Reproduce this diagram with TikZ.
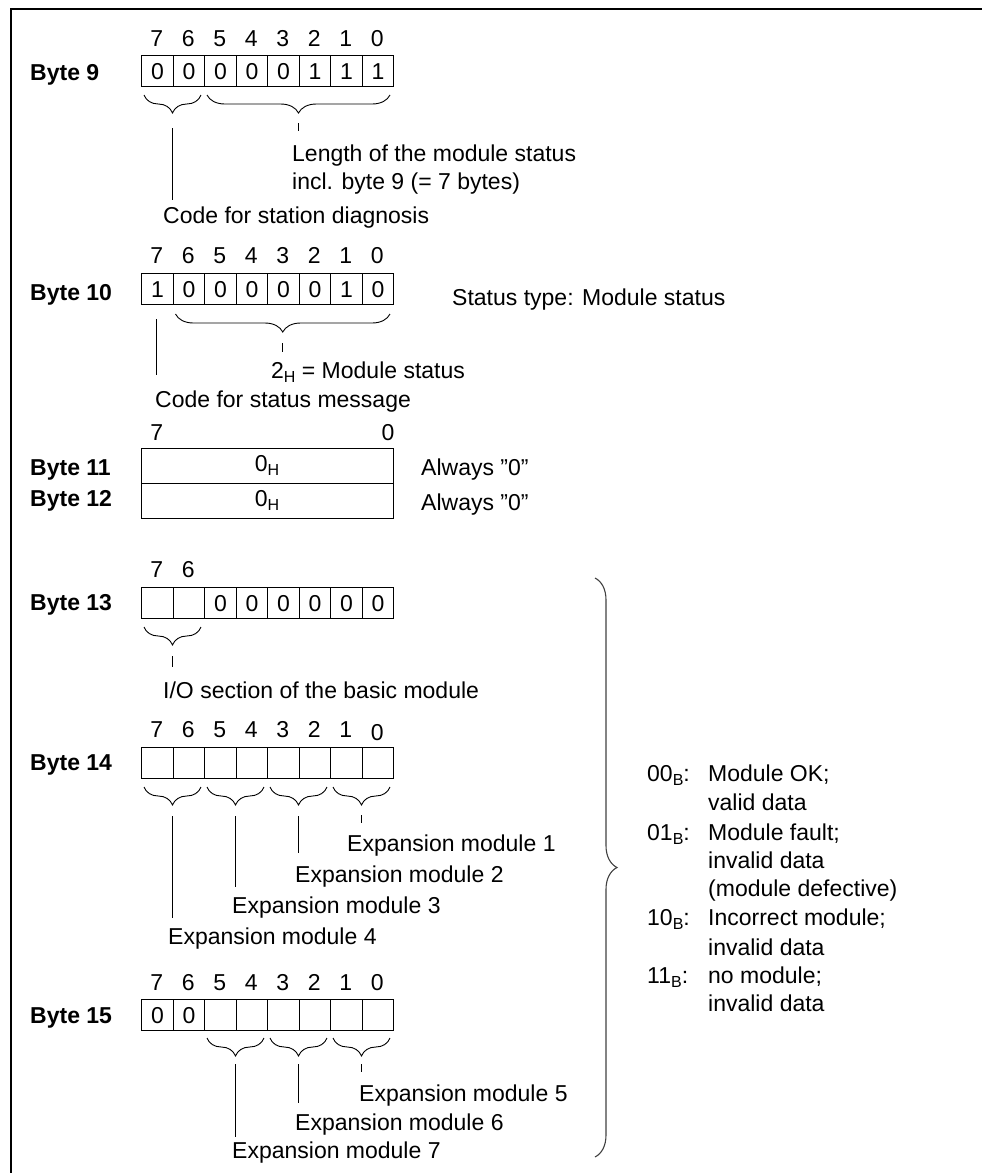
\documentclass[tikz,border=0pt]{standalone}
\usepackage{fontspec}
\setmainfont{Liberation Sans}
\usetikzlibrary{decorations.pathreplacing}
\newcommand{\lowsub}[1]{\raisebox{-4.5pt}{\fontsize{16}{16}\selectfont #1}}
\begin{document}
\begin{tikzpicture}[x=1pt,y=-1pt,
  font=\fontsize{23}{28}\selectfont,
  cell/.style={draw, line width=1.3pt, minimum width=31.5pt, minimum height=31pt, inner sep=0pt, anchor=north west},
  wide/.style={draw, line width=1.3pt, minimum width=252pt, minimum height=35pt, inner sep=0pt, anchor=north west},
  lbl/.style={font=\fontsize{23}{28}\selectfont\bfseries, anchor=base west, inner sep=0pt},
  txt/.style={anchor=base west, inner sep=0pt},
  bitno/.style={anchor=base, inner sep=0pt},
  brc/.style={decorate, decoration={brace, mirror, amplitude=18pt}, line width=0.9pt},
  bigbrc/.style={decorate, decoration={brace, amplitude=22pt}, line width=1.1pt, black!75},
  conn/.style={line width=0.9pt}]
\useasboundingbox (0,0) rectangle (982,1173);
% frame
\coordinate (fr1) at (982,9);
\coordinate (fr2) at (11,9);
\coordinate (fr3) at (11,1173);
\draw[line width=1.3pt] (fr1) -- (fr2) -- (fr3);

% ---------------- Byte 9
\node[lbl] (l9) at (30,80) {Byte 9};
\foreach \v [count=\k from 0] in {0,0,0,0,0,1,1,1} {
  \pgfmathtruncatemacro\b{7-\k}
  \node[cell] (b9c\b) at ({141+\k*31.5},55) {\v};
  \node[bitno] (b9n\b) at ({156.75+\k*31.5},46) {\b};
}
\coordinate (b9a1) at (144,95); \coordinate (b9a2) at (201,95);
\coordinate (b9a3) at (207,95); \coordinate (b9a4) at (390,95);
\draw[brc] (b9a1) -- (b9a2);
\draw[brc] (b9a3) -- (b9a4);
\coordinate (b9t1) at (172.5,128); \coordinate (b9e1) at (172.5,200);
\coordinate (b9t2) at (298.5,123); \coordinate (b9e2) at (298.5,131);
\draw[conn] (b9t1) -- (b9e1);
\draw[conn] (b9t2) -- (b9e2);
\node[txt] (t9a) at (292,161) {Length of the module status};
\node[txt] (t9b) at (292,189) {incl. byte 9 (= 7 bytes)};
\node[txt] (t9c) at (163,223) {Code for station diagnosis};

% ---------------- Byte 10
\node[lbl] (l10) at (30,300) {Byte 10};
\foreach \v [count=\k from 0] in {1,0,0,0,0,0,1,0} {
  \pgfmathtruncatemacro\b{7-\k}
  \node[cell] (b10c\b) at ({141+\k*31.5},273) {\v};
  \node[bitno] (b10n\b) at ({156.75+\k*31.5},263) {\b};
}
\node[txt] (st) at (452,305) {Status type: Module status};
\coordinate (b10a1) at (175.5,314); \coordinate (b10a2) at (390,314);
\draw[brc] (b10a1) -- (b10a2);
\coordinate (b10t1) at (282.75,343); \coordinate (b10e1) at (282.75,352);
\draw[conn] (b10t1) -- (b10e1);
\coordinate (b10t2) at (156.75,319); \coordinate (b10e2) at (156.75,375);
\draw[conn] (b10t2) -- (b10e2);
\node[txt] (t10a) at (271,378) {2\lowsub{H} = Module status};
\node[txt] (t10b) at (155,407) {Code for status message};

% ---------------- Byte 11 / 12
\node[bitno] (n11a) at (156.75,440) {7};
\node[bitno] (n11b) at (388,440) {0};
\node[lbl] (l11) at (30,475) {Byte 11};
\node[wide] (b11) at (141,448) {};
\node[bitno] (v11) at (267,471) {0\lowsub{H}};
\node[txt] (a11) at (421,475) {Always ”0”};
\node[lbl] (l12) at (30,506) {Byte 12};
\node[wide] (b12) at (141,483) {};
\node[bitno] (v12) at (267,506) {0\lowsub{H}};
\node[txt] (a12) at (421,510) {Always ”0”};

% ---------------- Byte 13
\node[lbl] (l13) at (30,610) {Byte 13};
\foreach \v [count=\k from 0] in {{},{},0,0,0,0,0,0} {
  \pgfmathtruncatemacro\b{7-\k}
  \node[cell] (b13c\b) at ({141+\k*31.5},587) {\v};
}
\node[bitno] (b13n7) at (156.75,577) {7};
\node[bitno] (b13n6) at (188.25,577) {6};
\coordinate (b13a1) at (144,627); \coordinate (b13a2) at (201,627);
\draw[brc] (b13a1) -- (b13a2);
\coordinate (b13t1) at (172.5,656); \coordinate (b13e1) at (172.5,667);
\draw[conn] (b13t1) -- (b13e1);
\node[txt] (t13) at (163,698) {I/O section of the basic module};

% ---------------- Byte 14
\node[lbl] (l14) at (30,770) {Byte 14};
\foreach \k in {0,...,7} {
  \pgfmathtruncatemacro\b{7-\k}
  \node[cell] (b14c\b) at ({141+\k*31.5},747) {};
}
\foreach \k in {0,...,6} {
  \pgfmathtruncatemacro\b{7-\k}
  \node[bitno] (b14n\b) at ({156.75+\k*31.5},737) {\b};
}
\node[bitno] (b14n0) at (377.25,740) {0};
\foreach \p/\xa/\xb/\xm/\ye in {1/144/201/172.5/918, 2/207/264/235.5/887, 3/270/327/298.5/853} {
  \coordinate (b14a\p) at (\xa,787); \coordinate (b14b\p) at (\xb,787);
  \draw[brc] (b14a\p) -- (b14b\p);
  \coordinate (b14t\p) at (\xm,816); \coordinate (b14e\p) at (\xm,\ye);
  \draw[conn] (b14t\p) -- (b14e\p);
}
\coordinate (b14a4) at (333,787); \coordinate (b14b4) at (390,787);
\draw[brc] (b14a4) -- (b14b4);
\coordinate (b14t4) at (361.5,815); \coordinate (b14e4) at (361.5,823);
\draw[conn] (b14t4) -- (b14e4);
\node[txt] (em1) at (347,851) {Expansion module 1};
\node[txt] (em2) at (295,882) {Expansion module 2};
\node[txt] (em3) at (232,913) {Expansion module 3};
\node[txt] (em4) at (168,944) {Expansion module 4};

% ---------------- Byte 15
\node[lbl] (l15) at (30,1023) {Byte 15};
\foreach \v [count=\k from 0] in {0,0,{},{},{},{},{},{}} {
  \pgfmathtruncatemacro\b{7-\k}
  \node[cell] (b15c\b) at ({141+\k*31.5},999) {\v};
  \node[bitno] (b15n\b) at ({156.75+\k*31.5},990) {\b};
}
\foreach \p/\xa/\xb/\xm/\ye in {1/207/264/235.5/1137, 2/270/327/298.5/1103, 3/333/390/361.5/1072} {
  \coordinate (b15a\p) at (\xa,1038); \coordinate (b15b\p) at (\xb,1038);
  \draw[brc] (b15a\p) -- (b15b\p);
  \coordinate (b15t\p) at (\xm,1064); \coordinate (b15e\p) at (\xm,\ye);
  \draw[conn] (b15t\p) -- (b15e\p);
}
\node[txt] (em5) at (359,1101) {Expansion module 5};
\node[txt] (em6) at (295,1130) {Expansion module 6};
\node[txt] (em7) at (232,1158) {Expansion module 7};

% ---------------- big brace and legend
\coordinate (bb1) at (595,578); \coordinate (bb2) at (595,1157);
\draw[bigbrc] (bb1) -- (bb2);
\node[txt] (k1) at (647,781) {00\lowsub{B}:};
\node[txt] (d1) at (708,781) {Module OK;};
\node[txt] (d1b) at (708,810) {valid data};
\node[txt] (k2) at (647,840) {01\lowsub{B}:};
\node[txt] (d2) at (708,840) {Module fault;};
\node[txt] (d2b) at (708,868) {invalid data};
\node[txt] (d2c) at (708,896) {(module defective)};
\node[txt] (k3) at (647,925) {10\lowsub{B}:};
\node[txt] (d3) at (708,925) {Incorrect module;};
\node[txt] (d3b) at (708,955) {invalid data};
\node[txt] (k4) at (647,983) {11\lowsub{B}:};
\node[txt] (d4) at (708,983) {no module;};
\node[txt] (d4b) at (708,1011) {invalid data};
\end{tikzpicture}
\end{document}
